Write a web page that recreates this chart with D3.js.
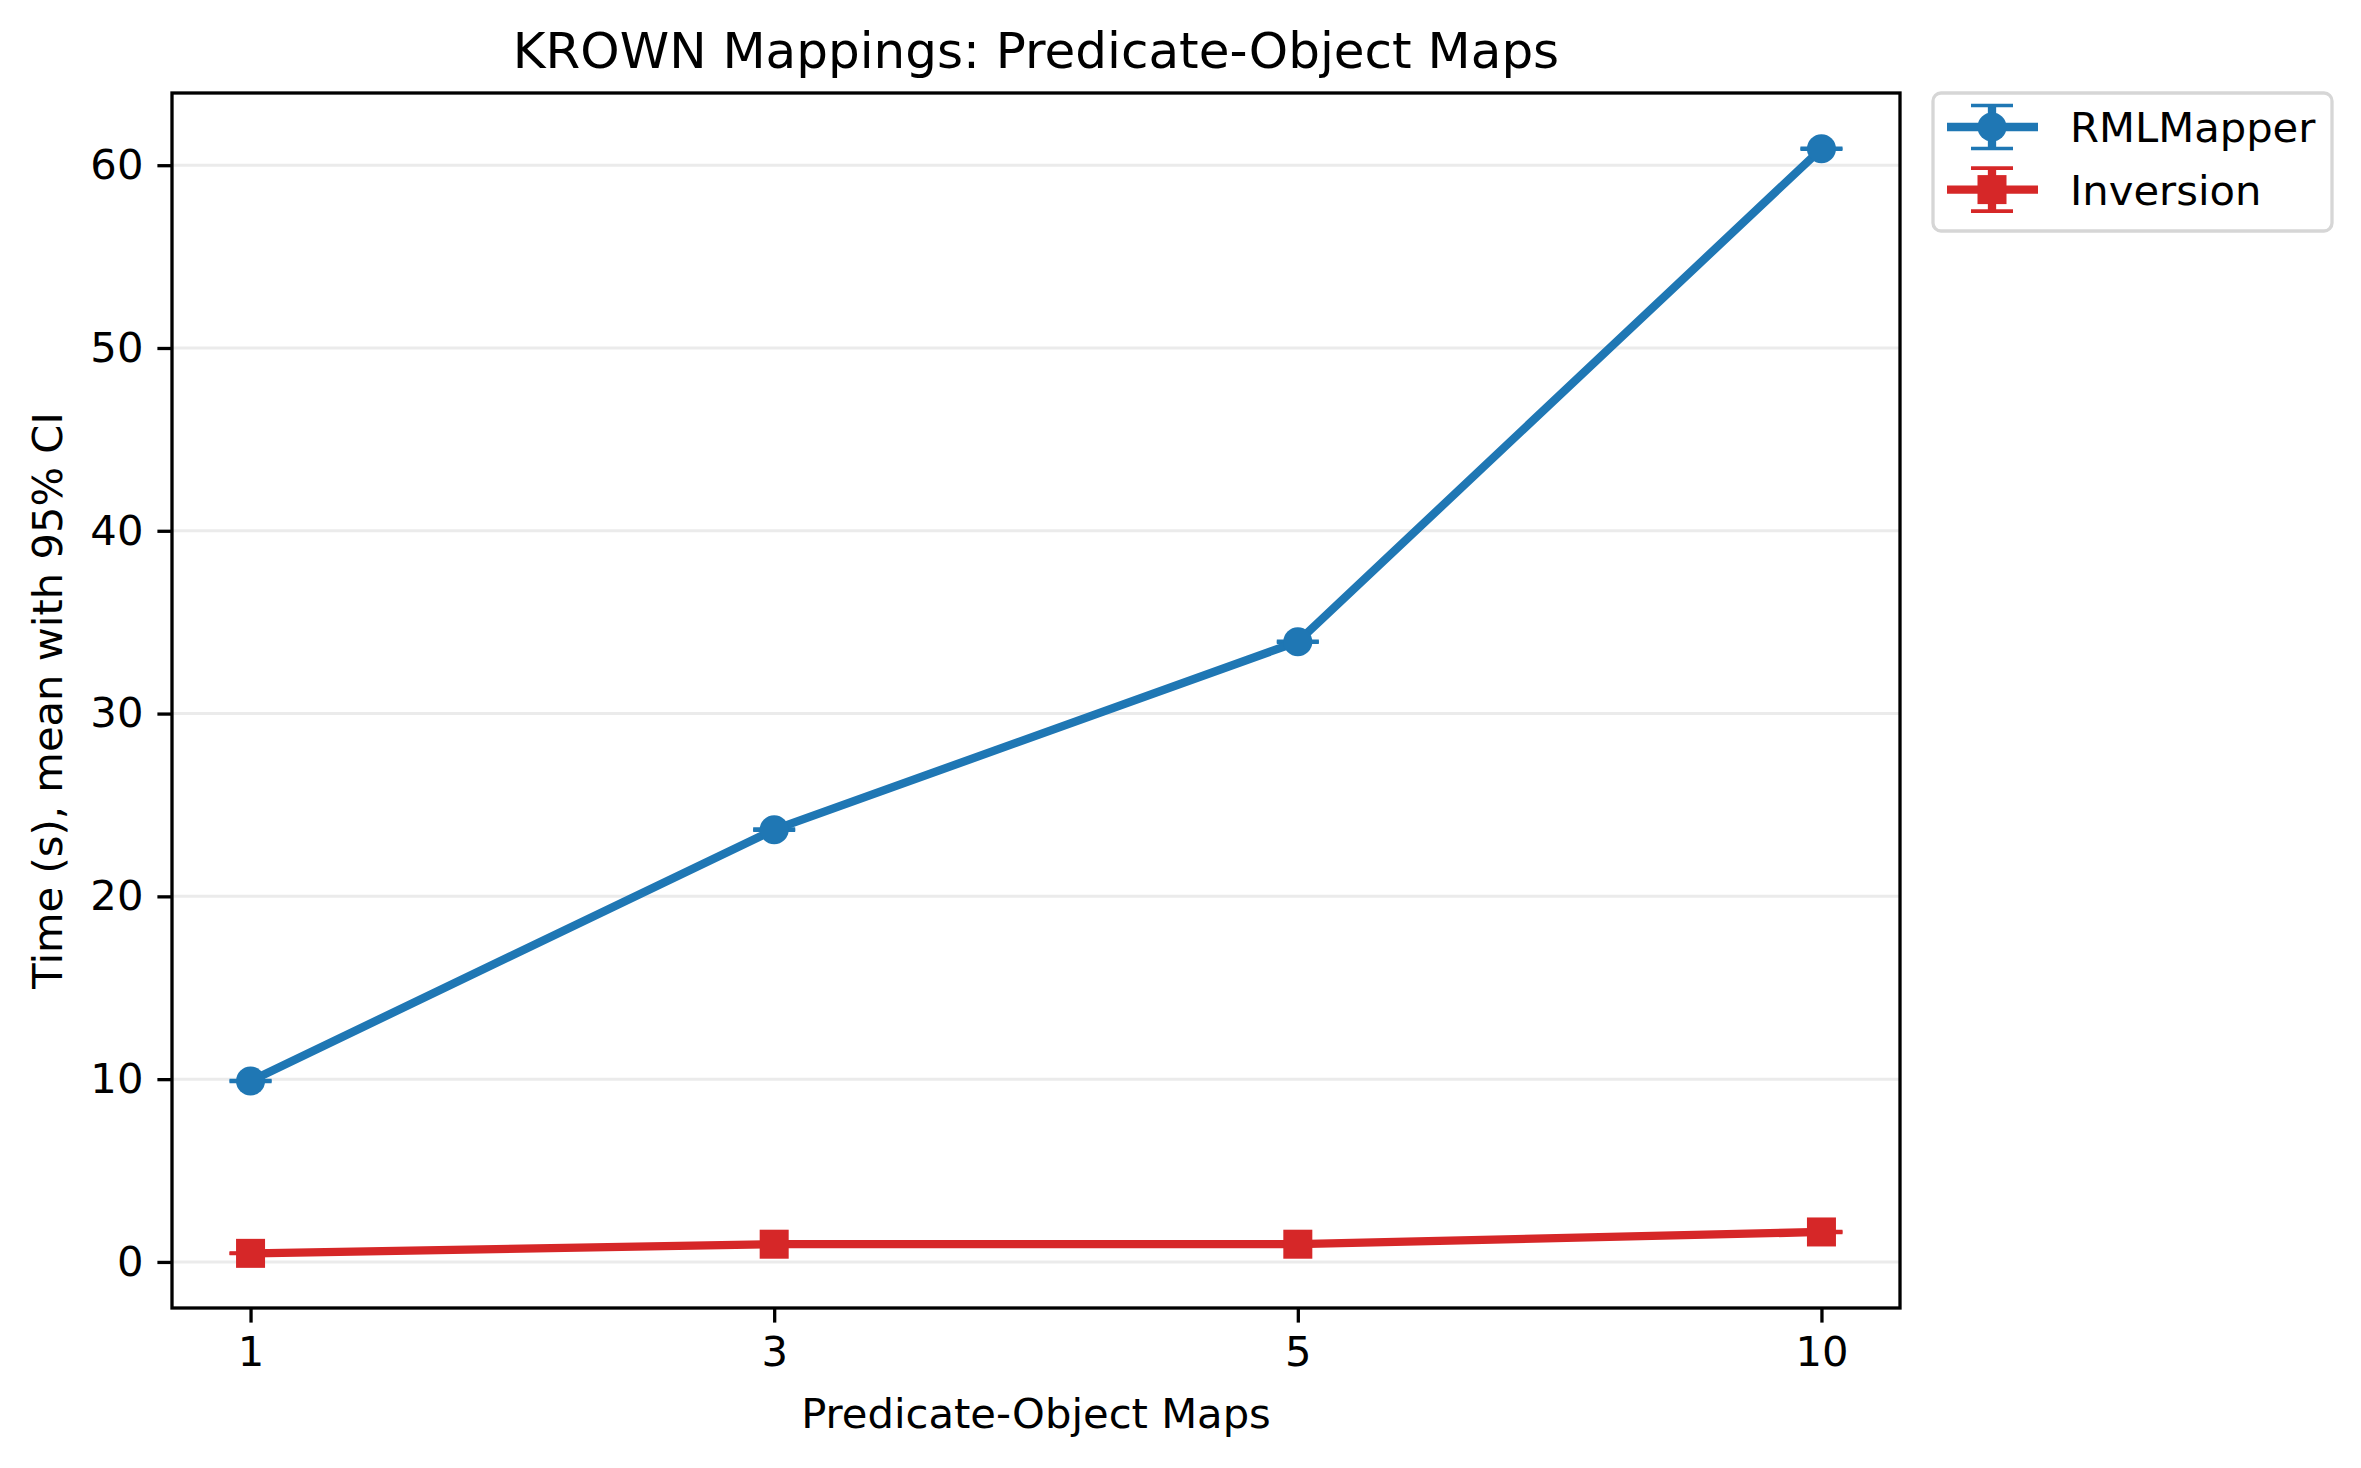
<!DOCTYPE html>
<meta charset="utf-8">
<style>
  body { margin: 0; background: #fff; }
  text { font-family: 'DejaVu Sans', sans-serif; fill: #000; }
</style>
<body>
<div id="chart"></div>
<script src="https://d3js.org/d3.v7.min.js"></script>
<script>

// data
var categories = ["1", "3", "5", "10"];
var rmlMean = [9.9, 23.65, 33.93, 60.9];
var rmlCi   = [0.02, 0.03, 0.03, 0.03];
var invMean = [0.47, 0.97, 0.97, 1.64];
var invCi   = [0.01, 0.01, 0.01, 0.02];
var yTicks  = [0, 10, 20, 30, 40, 50, 60];

var series = [
  { name: "RMLMapper", mean: rmlMean, ci: rmlCi, color: "#1f77b4", marker: "circle" },
  { name: "Inversion", mean: invMean, ci: invCi, color: "#d62728", marker: "square" }
];

// figure layout (px at 300 dpi)
var W = 2361, H = 1468;
var margin = { top: 93, right: 461, bottom: 160, left: 172 };
var width = W - margin.left - margin.right,
    height = H - margin.top - margin.bottom;

var svg = d3.select("#chart")
  .append("svg")
    .attr("width", W)
    .attr("height", H);

var g = svg.append("g")
  .attr("transform", "translate(" + margin.left + "," + margin.top + ")");

// x is categorical, placed at 0..n-1 with a 5% margin like matplotlib
var x = d3.scaleLinear()
  .domain([-0.15, categories.length - 1 + 0.15])
  .range([0, width]);

var y = d3.scaleLinear()
  .domain([-2.52, 63.95])
  .range([height, 0]);

// grid
g.selectAll(".grid")
  .data(yTicks)
  .enter()
  .append("line")
    .attr("x1", 0).attr("x2", width)
    .attr("y1", function(d) { return y(d); })
    .attr("y2", function(d) { return y(d); })
    .attr("stroke", "#ebebeb")
    .attr("stroke-width", 3);

// axes
var fontSize = 41.7;
var xAxis = g.append("g")
  .attr("transform", "translate(0," + height + ")")
  .call(d3.axisBottom(x)
    .tickValues(d3.range(categories.length))
    .tickFormat(function(i) { return categories[i]; })
    .tickSize(14.6).tickPadding(14));
var yAxis = g.append("g")
  .call(d3.axisLeft(y)
    .tickValues(yTicks)
    .tickSize(14.6).tickPadding(14));

[xAxis, yAxis].forEach(function(a) {
  a.select(".domain").remove();
  a.selectAll("line").attr("stroke", "#000").attr("stroke-width", 3.3);
  a.selectAll("text")
    .style("font-family", "'DejaVu Sans', sans-serif")
    .style("font-size", fontSize + "px")
    .attr("fill", "#000");
});

// series
var line = d3.line()
  .x(function(d, i) { return x(i); })
  .y(function(d) { return y(d); });

var capHalf = 21;
var markerSide = 29;

series.forEach(function(s) {
  var sg = g.append("g");

  // error bars
  s.mean.forEach(function(m, i) {
    var cx = x(i);
    sg.append("line")
      .attr("x1", cx).attr("x2", cx)
      .attr("y1", y(m - s.ci[i])).attr("y2", y(m + s.ci[i]))
      .attr("stroke", s.color).attr("stroke-width", 8.3);
    [m - s.ci[i], m + s.ci[i]].forEach(function(v) {
      sg.append("line")
        .attr("x1", cx - capHalf).attr("x2", cx + capHalf)
        .attr("y1", y(v)).attr("y2", y(v))
        .attr("stroke", s.color).attr("stroke-width", 3.6);
    });
  });

  sg.append("path")
    .datum(s.mean)
    .attr("d", line)
    .attr("fill", "none")
    .attr("stroke", s.color)
    .attr("stroke-width", 8.3)
    .attr("stroke-linejoin", "round");

  if (s.marker === "circle") {
    sg.selectAll(".m")
      .data(s.mean)
      .enter()
      .append("circle")
        .attr("cx", function(d, i) { return x(i); })
        .attr("cy", function(d) { return y(d); })
        .attr("r", markerSide / 2)
        .attr("fill", s.color);
  } else {
    sg.selectAll(".m")
      .data(s.mean)
      .enter()
      .append("rect")
        .attr("x", function(d, i) { return x(i) - markerSide / 2; })
        .attr("y", function(d) { return y(d) - markerSide / 2; })
        .attr("width", markerSide)
        .attr("height", markerSide)
        .attr("fill", s.color);
  }
});

// frame
g.append("rect")
  .attr("width", width).attr("height", height)
  .attr("fill", "none")
  .attr("stroke", "#000")
  .attr("stroke-width", 3.3);

// title and labels
svg.append("text")
  .attr("x", margin.left + width / 2)
  .attr("y", 68)
  .attr("text-anchor", "middle")
  .style("font-size", "50px")
  .text("KROWN Mappings: Predicate-Object Maps");

svg.append("text")
  .attr("x", margin.left + width / 2)
  .attr("y", 1428)
  .attr("text-anchor", "middle")
  .style("font-size", fontSize + "px")
  .text("Predicate-Object Maps");

svg.append("text")
  .attr("transform", "translate(62," + (margin.top + height / 2) + ") rotate(-90)")
  .attr("text-anchor", "middle")
  .style("font-size", fontSize + "px")
  .text("Time (s), mean with 95% CI");

// legend
var legend = svg.append("g").attr("transform", "translate(1933,93)");
legend.append("rect")
  .attr("width", 399).attr("height", 138)
  .attr("rx", 8).attr("ry", 8)
  .attr("fill", "#fff")
  .attr("stroke", "#d6d6d6")
  .attr("stroke-width", 3.3);

series.forEach(function(s, i) {
  var row = legend.append("g")
    .attr("transform", "translate(0," + (34 + i * 62.6) + ")");
  var cx = 59;
  row.append("line")
    .attr("x1", 14).attr("x2", 105)
    .attr("stroke", s.color).attr("stroke-width", 8.3);
  row.append("line")
    .attr("x1", cx).attr("x2", cx).attr("y1", -21.5).attr("y2", 21.5)
    .attr("stroke", s.color).attr("stroke-width", 8.3);
  [-21.5, 21.5].forEach(function(v) {
    row.append("line")
      .attr("x1", cx - capHalf).attr("x2", cx + capHalf)
      .attr("y1", v).attr("y2", v)
      .attr("stroke", s.color).attr("stroke-width", 3.6);
  });
  if (s.marker === "circle") {
    row.append("circle").attr("cx", cx).attr("r", markerSide / 2).attr("fill", s.color);
  } else {
    row.append("rect")
      .attr("x", cx - markerSide / 2).attr("y", -markerSide / 2)
      .attr("width", markerSide).attr("height", markerSide)
      .attr("fill", s.color);
  }
  row.append("text")
    .attr("x", 137)
    .attr("y", 15)
    .style("font-size", fontSize + "px")
    .text(s.name);
});

</script>
</body>
